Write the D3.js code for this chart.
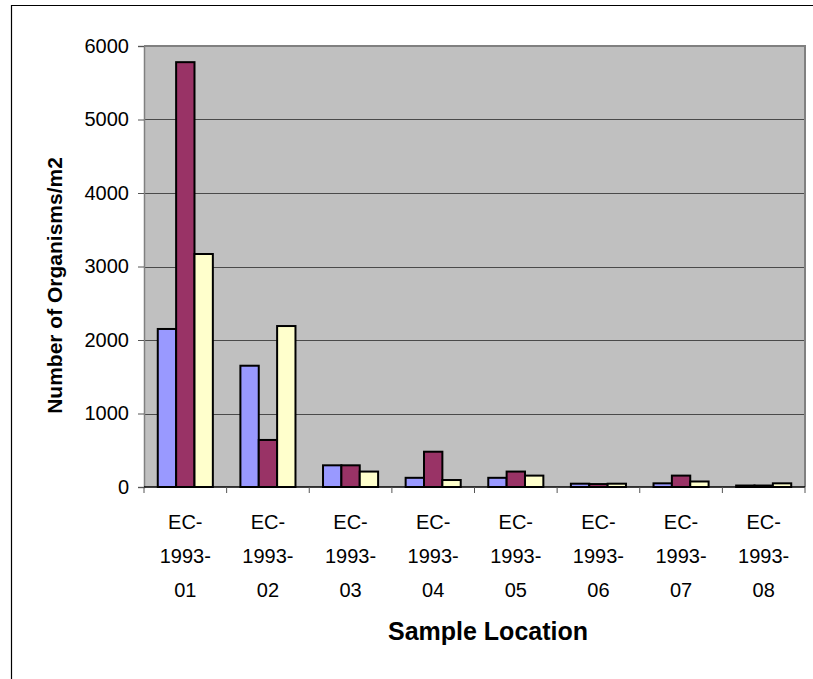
<!DOCTYPE html>
<html>
<head>
<meta charset="utf-8">
<script src="https://cdn.jsdelivr.net/npm/d3@7/dist/d3.min.js"></script>
<style>
  html, body { margin: 0; padding: 0; background: #fff; overflow: hidden; }
  svg { display: block; }
  text { font-family: Arial, "Liberation Sans", sans-serif; fill: #000; }
</style>
</head>
<body>
<svg id="chart" width="813" height="679"></svg>
<script>
// Sample locations along the x axis
const categories = ["EC-1993-01", "EC-1993-02", "EC-1993-03", "EC-1993-04",
                    "EC-1993-05", "EC-1993-06", "EC-1993-07", "EC-1993-08"];
// Organisms per square metre, one array per sampling series
const series1 = [2150, 1650, 295, 125, 125, 45, 50, 20];
const series2 = [5780, 640, 295, 480, 210, 40, 155, 20];
const series3 = [3170, 2190, 210, 95, 155, 45, 75, 50];
const seriesNames = ["series1", "series2", "series3"];
const seriesColors = ["#9999FF", "#993366", "#FFFFCC"];
const yTicks = [0, 1000, 2000, 3000, 4000, 5000, 6000];

const svg = d3.select("#chart");
const plot = { left: 144, right: 805, top: 46, bottom: 487 };

// Chart frame (left and top edges fall inside the page)
svg.append("path")
  .attr("d", "M11.5,679 V5.5 H813")
  .attr("fill", "none").attr("stroke", "#000").attr("stroke-width", 1.2);

const x0 = d3.scaleBand().domain(categories).range([plot.left, plot.right]).paddingInner(0).paddingOuter(0);
const x1 = d3.scaleBand().domain(seriesNames).range([0, x0.bandwidth()]).paddingInner(0).paddingOuter(0.75);
const y = d3.scaleLinear().domain([0, 6000]).range([plot.bottom, plot.top]);

// Plot area
svg.append("rect")
  .attr("x", plot.left).attr("y", plot.top)
  .attr("width", plot.right - plot.left).attr("height", plot.bottom - plot.top)
  .attr("fill", "#C0C0C0");

// Gridlines
svg.append("g").selectAll("line")
  .data(yTicks.filter(d => d > 0))
  .join("line")
  .attr("x1", plot.left).attr("x2", plot.right)
  .attr("y1", d => Math.round(y(d)) + 0.5).attr("y2", d => Math.round(y(d)) + 0.5)
  .attr("stroke", "#4a4a4a").attr("stroke-width", 1.2);

// Plot border (top and right)
svg.append("path")
  .attr("d", `M${plot.left},${plot.top} H${plot.right} V${plot.bottom}`)
  .attr("fill", "none").attr("stroke", "#808080").attr("stroke-width", 2);

// Bars
const rows = categories.map((c, i) => ({
  cat: c,
  vals: [series1[i], series2[i], series3[i]]
}));
const groups = svg.append("g").selectAll("g")
  .data(rows).join("g")
  .attr("transform", d => `translate(${x0(d.cat)},0)`);
groups.selectAll("rect")
  .data(d => d.vals.map((v, k) => ({ v, k })))
  .join("rect")
  .attr("x", d => x1(seriesNames[d.k]))
  .attr("y", d => y(d.v))
  .attr("width", x1.bandwidth())
  .attr("height", d => y(0) - y(d.v))
  .attr("fill", d => seriesColors[d.k])
  .attr("stroke", "#000").attr("stroke-width", 2);

// Y axis
const yAxis = d3.axisLeft(y).tickValues(yTicks).tickSize(6).tickPadding(9).tickFormat(d3.format("d"));
const gy = svg.append("g").attr("transform", `translate(${plot.left},0)`).call(yAxis);
gy.select(".domain").attr("stroke", "#808080").attr("stroke-width", 1.5);
gy.selectAll(".tick line").attr("stroke", "#555");
gy.selectAll(".tick text").attr("font-size", 20).attr("fill", "#000");

// X axis: ticks at category boundaries
const xEdges = categories.map(c => x0(c)).concat([plot.right]);
svg.append("line")
  .attr("x1", plot.left).attr("x2", plot.right)
  .attr("y1", plot.bottom).attr("y2", plot.bottom)
  .attr("stroke", "#000").attr("stroke-width", 1.5);
svg.append("g").selectAll("line")
  .data(xEdges).join("line")
  .attr("x1", d => d).attr("x2", d => d)
  .attr("y1", plot.bottom).attr("y2", plot.bottom + 6)
  .attr("stroke", "#555").attr("stroke-width", 1);

// Category labels, wrapped on the hyphens
const labels = svg.append("g").selectAll("text")
  .data(categories).join("text")
  .attr("text-anchor", "middle")
  .attr("font-size", 20)
  .attr("x", d => x0(d) + x0.bandwidth() / 2)
  .attr("y", 529);
labels.each(function(d) {
  const parts = d.split("-");
  const lines = [parts[0] + "-", parts[1] + "-", parts[2]];
  d3.select(this).selectAll("tspan").data(lines).join("tspan")
    .attr("x", x0(d) + x0.bandwidth() / 2)
    .attr("dy", (l, i) => i === 0 ? 0 : 34)
    .text(l => l);
});

// Axis titles
svg.append("text")
  .attr("x", 488).attr("y", 640)
  .attr("text-anchor", "middle")
  .attr("font-size", 25).attr("font-weight", "bold")
  .text("Sample Location");

svg.append("text")
  .attr("transform", `translate(62,${(plot.top + plot.bottom) / 2 + 19}) rotate(-90)`)
  .attr("text-anchor", "middle")
  .attr("font-size", 21).attr("font-weight", "bold")
  .text("Number of Organisms/m2");
</script>
</body>
</html>
